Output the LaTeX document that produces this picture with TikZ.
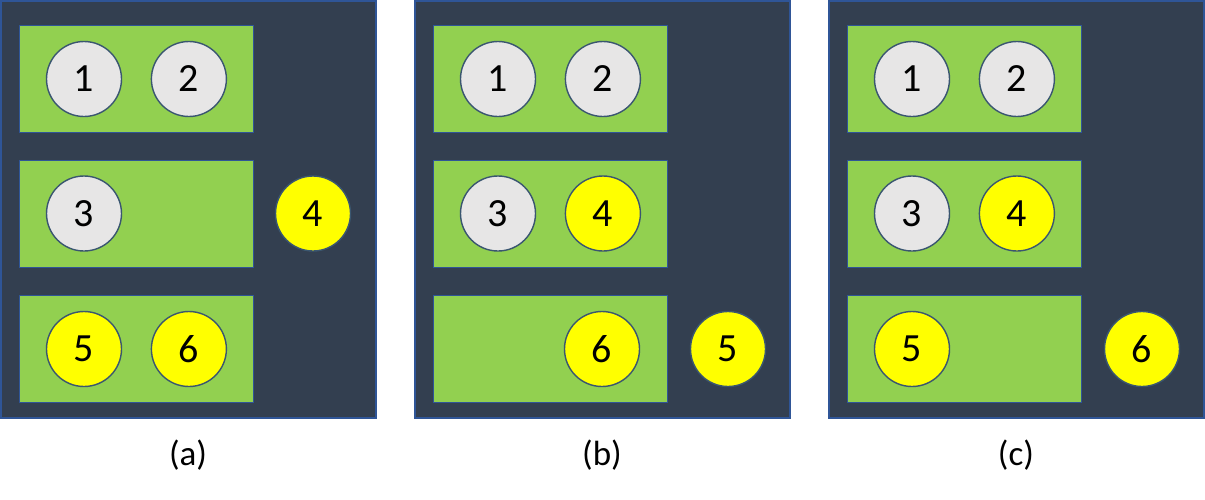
\documentclass[tikz,border=0pt]{standalone}
\usepackage{fontspec}
\setmainfont{Carlito}
\usetikzlibrary{positioning}
\definecolor{slate}{HTML}{333F50}
\definecolor{slateedge}{HTML}{2F5597}
\definecolor{leaf}{HTML}{92D050}
\definecolor{ballgrey}{HTML}{E7E6E6}
\definecolor{ballyellow}{HTML}{FFFF00}
\definecolor{balledge}{HTML}{3A5670}
\tikzset{
		panel/.style={draw=slateedge, fill=slate, line width=1.5pt, minimum width=375pt, minimum height=417pt, inner sep=0pt},
		tray/.style={draw=slateedge, fill=leaf, line width=1pt, minimum width=234pt, minimum height=107pt, inner sep=0pt},
		ball/.style={circle, draw=balledge, line width=1.4pt, minimum size=75pt, inner sep=0pt, font=\fontsize{40}{40}\selectfont},
		idle/.style={ball, fill=ballgrey},
		moved/.style={ball, fill=ballyellow},
		caption/.style={font=\fontsize{35}{35}\selectfont}
	}
\begin{document}
\begin{tikzpicture}[x=1pt, y=-1pt, node distance = 28.5pt]
				\useasboundingbox (0,0) rectangle (1205,499);

				% (a)
				\node[panel] (pa) at (188.5,209.5) {};
				\node[tray]  (ta1) at (136,79)    {};
				\node[tray]  (ta2) at (136,213.5) {};
				\node[tray]  (ta3) at (136,349)   {};
				\node[idle]  (a1) at (84,79)      {1};
				\node[idle]  (a2) [right = of a1] {2};
				\node[idle]  (a3) at (84,213.5)   {3};
				\node[moved] (a4) at (313,213.5)  {4};
				\node[moved] (a5) at (84,349)     {5};
				\node[moved] (a6) [right = of a5] {6};
				\node[caption] (ca) at (188,455)  {(a)};

				% (b)
				\node[panel] (pb) at (602.5,209.5) {};
				\node[tray]  (tb1) at (550,79)    {};
				\node[tray]  (tb2) at (550,213.5) {};
				\node[tray]  (tb3) at (550,349)   {};
				\node[idle]  (b1) at (498,79)     {1};
				\node[idle]  (b2) [right = of b1] {2};
				\node[idle]  (b3) at (498,213.5)  {3};
				\node[moved] (b4) [right = of b3] {4};
				\node[moved] (b6) at (602,349)    {6};
				\node[moved] (b5) at (728,349)    {5};
				\node[caption] (cb) at (602,455)  {(b)};

				% (c)
				\node[panel] (pc) at (1016.5,209.5) {};
				\node[tray]  (tc1) at (964,79)    {};
				\node[tray]  (tc2) at (964,213.5) {};
				\node[tray]  (tc3) at (964,349)   {};
				\node[idle]  (c1) at (912,79)     {1};
				\node[idle]  (c2) [right = of c1] {2};
				\node[idle]  (c3) at (912,213.5)  {3};
				\node[moved] (c4) [right = of c3] {4};
				\node[moved] (c5) at (912,349)    {5};
				\node[moved] (c6) at (1142,349)   {6};
				\node[caption] (cc) at (1016,455) {(c)};
			\end{tikzpicture}
\end{document}
